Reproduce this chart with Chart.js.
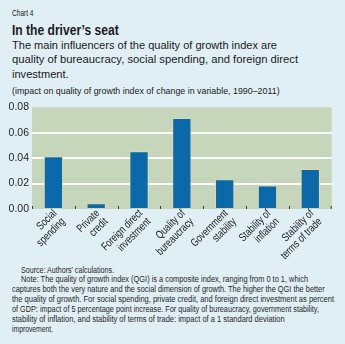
<!DOCTYPE html>
<html>
<head>
<meta charset="utf-8">
<script src="https://cdn.jsdelivr.net/npm/chart.js@4/dist/chart.umd.min.js"></script>
<style>
  html, body { margin: 0; padding: 0; }
  body {
    width: 345px; height: 344px; overflow: hidden; position: relative;
    background: #e0eef6;
    font-family: "Liberation Sans", Arial, sans-serif;
    color: #1b1b1b;
  }
  .ln { position: absolute; white-space: nowrap; line-height: 1; transform-origin: 0 0; }
  #wrap { position: absolute; left: 0; top: 98px; width: 345px; height: 170px; }
</style>
</head>
<body>
<div id="text"></div>
<div id="wrap"><canvas id="c"></canvas></div>
<script>
// Determinants of the quality of growth index
const categories = [
  ["Social", "spending"],
  ["Private", "credit"],
  ["Foreign direct", "investment"],
  ["Quality of", "bureaucracy"],
  ["Government", "stability"],
  ["Stability of", "inflation"],
  ["Stability of", "terms of trade"]
];
const impact = [0.0415, 0.0045, 0.0455, 0.0715, 0.0235, 0.0185, 0.0315];
const yTicks = [0, 0.02, 0.04, 0.06, 0.08];

// Header and footnote text, set in a condensed face: each line is
// squeezed horizontally to its width w and sat on baseline b.
const textLines = [
  { s: "Chart 4", x: 11.7, b: 16.7, size: 9.3, w: 21.5 },
  { s: "In the driver’s seat", x: 11.7, b: 35, size: 15.2, w: 106.7, bold: true },
  { s: "The main influencers of the quality of growth index are", x: 11.7, b: 49.5, size: 11.8, w: 265 },
  { s: "quality of bureaucracy, social spending, and foreign direct", x: 11.7, b: 64.2, size: 11.8, w: 286 },
  { s: "investment.", x: 11.7, b: 78.9, size: 11.8, w: 56.6 },
  { s: "(impact on quality of growth index of change in variable, 1990–2011)", x: 11.7, b: 94.3, size: 9.4, w: 267.6 },
  { s: "Source: Authors’ calculations.", x: 21, b: 272.7, size: 8.4, w: 93, c: "#262626" },
  { s: "Note: The quality of growth index (QGI) is a composite index, ranging from 0 to 1, which", x: 21, b: 282.3, size: 8.4, w: 287, c: "#262626" },
  { s: "captures both the very nature and the social dimension of growth. The higher the QGI the better", x: 12.3, b: 292.2, size: 8.4, w: 312.7, c: "#262626" },
  { s: "the quality of growth. For social spending, private credit, and foreign direct investment as percent", x: 12.3, b: 302.1, size: 8.4, w: 322, c: "#262626" },
  { s: "of GDP: impact of 5 percentage point increase. For quality of bureaucracy, government stability,", x: 12.3, b: 311.9, size: 8.4, w: 307, c: "#262626" },
  { s: "stability of inflation, and stability of terms of trade: impact of a 1 standard deviation", x: 12.3, b: 321.8, size: 8.4, w: 272.7, c: "#262626" },
  { s: "improvement.", x: 12.3, b: 331.7, size: 8.4, w: 41, c: "#262626" }
];

const host = document.getElementById('text');
textLines.forEach(t => {
  const el = document.createElement('div');
  el.className = 'ln';
  el.textContent = t.s;
  el.style.fontSize = t.size + 'px';
  if (t.bold) el.style.fontWeight = 'bold';
  if (t.c) el.style.color = t.c;
  el.style.left = t.x + 'px';
  // with line-height 1 the baseline of Liberation Sans sits 0.8465em below the box top
  el.style.top = (t.b - 0.8465 * t.size) + 'px';
  host.appendChild(el);
  const natural = el.getBoundingClientRect().width;
  el.style.transform = 'scaleX(' + (t.w / natural) + ')';
});

const TICK_FONT = '"Liberation Sans", Arial, sans-serif';

// Green panel behind the plot area and short separators on the baseline
const panel = {
  id: 'panel',
  beforeDraw(chart) {
    const { ctx, chartArea: a } = chart;
    ctx.save();
    ctx.fillStyle = '#c6d6ba';
    ctx.fillRect(a.left, a.top, a.right - a.left, a.bottom - a.top);
    ctx.restore();
  },
  beforeDatasetsDraw(chart) {
    const { ctx, chartArea: a, scales: { x } } = chart;
    ctx.save();
    ctx.strokeStyle = '#3a3a3a';
    ctx.lineWidth = 1;
    for (let i = 0; i <= categories.length; i++) {
      let px = Math.round(x.getPixelForValue(i - 0.5)) + 0.5;
      px = Math.min(Math.max(px, a.left + 0.5), a.right - 0.5);
      ctx.beginPath();
      ctx.moveTo(px, a.bottom);
      ctx.lineTo(px, a.bottom - 3);
      ctx.stroke();
    }
    ctx.restore();
  },
  // slanted two-line category labels, right-aligned, condensed
  afterDraw(chart) {
    const { ctx, chartArea: a, scales: { x } } = chart;
    ctx.save();
    ctx.fillStyle = '#222222';
    ctx.font = '11.2px ' + TICK_FONT;
    ctx.textAlign = 'right';
    ctx.textBaseline = 'middle';
    categories.forEach((lines, i) => {
      const cx = x.getPixelForValue(i);
      ctx.save();
      ctx.translate(cx + 10, a.bottom + 11);
      ctx.rotate(-Math.PI / 4);
      ctx.scale(0.77, 1);
      const n = lines.length;
      lines.forEach((s, k) => ctx.fillText(s, 0, -(n - 1 - k) * 11.8));
      ctx.restore();
    });
    ctx.restore();
  }
};

new Chart(document.getElementById('c'), {
  type: 'bar',
  data: {
    labels: categories,
    datasets: [{
      data: impact,
      backgroundColor: '#0b69aa',
      borderColor: '#dcd9ad',
      borderWidth: 1,
      barPercentage: 0.45,
      categoryPercentage: 1
    }]
  },
  options: {
    responsive: true,
    maintainAspectRatio: false,
    animation: false,
    layout: { padding: { left: 0, right: 13.3, top: 7.7, bottom: 0 } },
    plugins: { legend: { display: false }, tooltip: { enabled: false } },
    scales: {
      x: {
        grid: { display: false },
        border: { display: false },
        ticks: { display: false },
        afterFit(s) { s.height = 59; }
      },
      y: {
        min: 0, max: 0.08,
        afterBuildTicks(s) { s.ticks = yTicks.map(v => ({ value: v })); },
        grid: {
          color: c => (c.tick && (c.tick.value === 0 || c.tick.value === 0.08)) ? 'rgba(0,0,0,0)' : '#ffffff',
          lineWidth: 2, drawTicks: false
        },
        border: { display: false },
        ticks: {
          padding: 3, color: '#262626', font: { family: TICK_FONT, size: 10.5 },
          callback: v => Number(v).toFixed(2)
        },
        afterFit(s) { s.width = 32; }
      }
    }
  },
  plugins: [panel]
});
</script>
</body>
</html>
